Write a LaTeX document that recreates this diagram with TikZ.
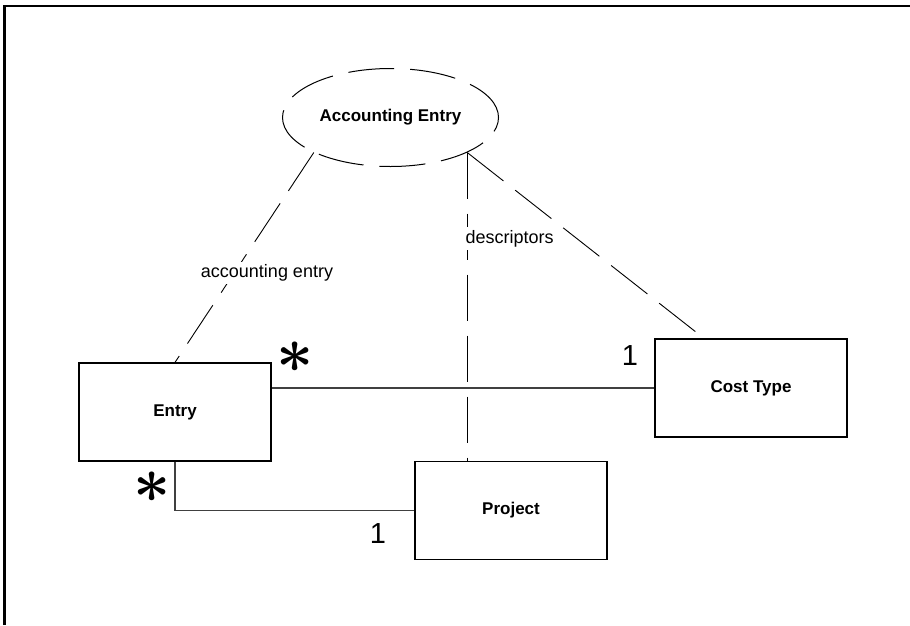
\documentclass[tikz,border=0pt]{standalone}
\usepackage{fontspec}
\usepackage{graphicx}
\setmainfont{Liberation Sans}
\usetikzlibrary{shapes.geometric}
\begin{document}
\begin{tikzpicture}
			[x=1pt,y=-1pt,
			class/.style={rectangle,draw,line width=1.2pt,minimum width=192pt,minimum height=98pt,
				font=\bfseries\fontsize{17}{20}\selectfont},
			collab/.style={ellipse,draw,line width=1pt,dash pattern=on 46pt off 16pt,
				minimum width=216pt,minimum height=98pt,font=\bfseries\fontsize{17}{20}\selectfont},
			assoc/.style={draw=black!75,line width=1.2pt},
			role/.style={draw,line width=0.9pt,dash pattern=on 46pt off 15pt},
			rolename/.style={fill=white,inner sep=3pt,font=\fontsize{18}{20}\selectfont},
			mult/.style={inner sep=0pt,font=\fontsize{29}{30}\selectfont}]
			\useasboundingbox (0,0) rectangle (910,625);
			\draw [line width=2.5pt] (4.3,625) -- (4.3,6) -- (910,6);
			\path node (entry)    at (175,412)   [class]  {Entry}
				  node (costtype) at (751,388)   [class]  {Cost Type}
				  node (project)  at (511,510.5) [class]  {Project}
				  node (acc)      at (390.5,117.5) [collab] {Accounting Entry};
			% associations
			\draw [assoc] (costtype.west) -- (costtype.west -| entry.east);
			\draw [assoc] (entry.south) -- (entry.south |- project.west) -- (project.west);
			% collaboration roles
			\draw [role] (acc.south west) -- (entry.north);
			\draw [role] (acc.south east) -- ([shift={(42,-6)}]costtype.north west);
			\draw [role] (acc.south east) -- (acc.south east |- project.north)
				node [pos=0.28,rolename,anchor=west,xshift=-5pt] (desclbl) {descriptors};
			\node (acclbl) at (267,273) [rolename] {accounting entry};
			% multiplicities
			\path node (m1) at (295,357) [mult] {\scalebox{2.6}{\boldmath$\ast$}}
				  node (m2) at (630,356) [mult] {1}
				  node (m3) at (152,487) [mult] {\scalebox{2.6}{\boldmath$\ast$}}
				  node (m4) at (378,534) [mult] {1};
		\end{tikzpicture}
\end{document}
